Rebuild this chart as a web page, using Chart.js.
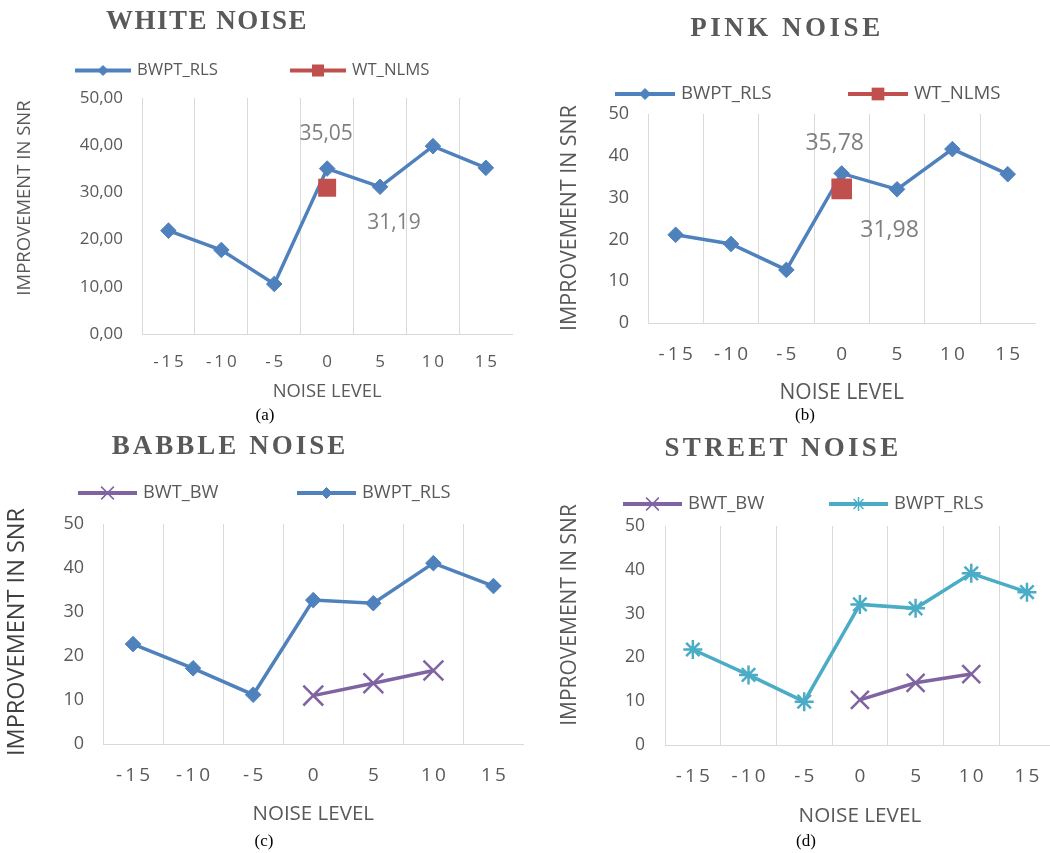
<!DOCTYPE html>
<html>
<head>
<meta charset="utf-8">
<title>Improvement in SNR by noise type</title>
<script src="https://cdn.jsdelivr.net/npm/chart.js@4/dist/chart.umd.min.js"></script>
<style>
  html, body { margin: 0; padding: 0; background: #ffffff; }
  body { width: 1050px; height: 853px; position: relative; overflow: hidden; }
  .panel { position: absolute; overflow: hidden; }
  .panel canvas { position: absolute; left: 0; top: 0; }
</style>
</head>
<body>
<div class="panel" style="left:0;top:0;width:525px;height:428px"><canvas id="chartWhite" width="525" height="428"></canvas></div>
<div class="panel" style="left:525px;top:0;width:525px;height:428px"><canvas id="chartPink" width="525" height="428"></canvas></div>
<div class="panel" style="left:0;top:428px;width:525px;height:425px"><canvas id="chartBabble" width="540" height="425"></canvas></div>
<div class="panel" style="left:525px;top:428px;width:525px;height:425px"><canvas id="chartStreet" width="545" height="425"></canvas></div>
<script>
// Noise levels (dB) on the x axis
const noiseLevels = ['-15', '-10', '-5', '0', '5', '10', '15'];

// White noise
const whiteBwptRls = [21.9, 17.8, 10.6, 35.05, 31.19, 39.8, 35.2];
const whiteWtNlms  = [null, null, null, 31.0, null, null, null];

// Pink noise
const pinkBwptRls = [21.1, 18.9, 12.7, 35.78, 31.98, 41.6, 35.6];
const pinkWtNlms  = [null, null, null, 32.1, null, null, null];

// Babble noise
const babbleBwtBw   = [null, null, null, 11.0, 13.8, 16.7, null];
const babbleBwptRls = [22.7, 17.2, 11.2, 32.7, 32.0, 41.1, 35.9];

// Street noise
const streetBwtBw   = [null, null, null, 10.3, 14.2, 16.2, null];
const streetBwptRls = [21.8, 16.0, 9.9, 32.1, 31.2, 39.2, 34.9];

// Y tick labels
const snrTicksDecimal = ['0,00', '10,00', '20,00', '30,00', '40,00', '50,00'];
const snrTicksInt     = ['0', '10', '20', '30', '40', '50'];

const BLUE = '#4F81BD', RED = '#C0504D', PURPLE = '#8064A2', TEAL = '#4BACC6';
const INK = '#595959', GRID = '#D9D9D9', LABEL_INK = '#7F7F7F';
const SANS = '"Open Sans", "DejaVu Sans", sans-serif';
const SERIF = '"Liberation Serif", "DejaVu Serif", serif';

const fmtComma = v => v.toFixed(2).replace('.', ',');

function diamondSeries(label, data) {
  return {
    label, data, borderColor: BLUE, backgroundColor: BLUE, borderWidth: 3.5,
    pointStyle: 'rectRot', pointRadius: 7.8, pointBorderWidth: 1,
    pointBackgroundColor: BLUE, pointBorderColor: BLUE, tension: 0, order: 1
  };
}
function squareSeries(label, data, radius) {
  return {
    label, data, borderColor: RED, backgroundColor: RED, showLine: false,
    pointStyle: 'rect', pointRadius: radius, pointBorderWidth: 0,
    pointBackgroundColor: RED, order: 0
  };
}
function crossSeries(label, data, radius) {
  return {
    label, data, borderColor: PURPLE, backgroundColor: PURPLE, borderWidth: 3.5,
    pointStyle: 'crossRot', pointRadius: radius, pointBorderWidth: 2.5,
    pointBorderColor: PURPLE, tension: 0, spanGaps: false, order: 1
  };
}
function starSeries(label, data) {
  return {
    label, data, borderColor: TEAL, backgroundColor: TEAL, borderWidth: 3.5,
    pointStyle: 'star', pointRadius: 9.5, pointBorderWidth: 2.5,
    pointBorderColor: TEAL, tension: 0, order: 1
  };
}

// Title, legend, y-axis caption, value labels and sub-figure caption
function makeDecor(p) {
  return {
    id: 'panelDecor',
    afterDraw(chart) {
      const ctx = chart.ctx;
      // panel title
      ctx.save();
      ctx.font = 'bold ' + p.title.size + 'px ' + SERIF;
      ctx.letterSpacing = p.title.spacing + 'px';
      ctx.fillStyle = INK;
      ctx.textAlign = 'center';
      ctx.textBaseline = 'middle';
      ctx.fillText(p.title.text, p.title.x, p.title.y);
      ctx.restore();

      // vertical axis caption
      ctx.save();
      ctx.translate(p.yTitle.x, p.yTitle.y);
      ctx.rotate(-Math.PI / 2);
      ctx.font = (p.yTitle.weight || 'normal') + ' ' + p.yTitle.size + 'px ' + SANS;
      ctx.fillStyle = p.yTitle.color || INK;
      ctx.textAlign = 'center';
      ctx.textBaseline = 'middle';
      ctx.fillText('IMPROVEMENT IN SNR', 0, 0);
      ctx.restore();

      // legend: line with marker, then label
      p.legend.items.forEach(it => {
        const ds = chart.data.datasets[it.ds];
        const y = p.legend.y;
        ctx.save();
        ctx.strokeStyle = ds.borderColor;
        ctx.lineWidth = 4;
        ctx.beginPath();
        ctx.moveTo(it.x, y);
        ctx.lineTo(it.x + it.w, y);
        ctx.stroke();
        ctx.fillStyle = ds.borderColor;
        ctx.strokeStyle = ds.borderColor;
        ctx.lineWidth = it.bw;
        Chart.helpers.drawPoint(ctx, { pointStyle: ds.pointStyle, radius: it.r, borderWidth: it.bw, rotation: 0 }, it.x + it.w / 2, y);
        ctx.fillStyle = INK;
        ctx.font = p.legend.size + 'px ' + SANS;
        ctx.textAlign = 'left';
        ctx.textBaseline = 'middle';
        ctx.fillText(ds.label, it.x + it.w + 6, y);
        ctx.restore();
      });

      // value labels next to points
      (p.valueLabels || []).forEach(l => {
        const el = chart.getDatasetMeta(l.ds).data[l.idx];
        const v = chart.data.datasets[l.ds].data[l.idx];
        ctx.save();
        ctx.font = p.valueLabelSize + 'px ' + SANS;
        ctx.fillStyle = LABEL_INK;
        ctx.textAlign = 'center';
        ctx.textBaseline = 'middle';
        ctx.fillText(fmtComma(v), el.x + l.dx, el.y + l.dy);
        ctx.restore();
      });

      // sub-figure caption
      ctx.save();
      ctx.font = '17px ' + SERIF;
      ctx.fillStyle = '#000000';
      ctx.textAlign = 'center';
      ctx.textBaseline = 'middle';
      ctx.fillText(p.caption.text, p.caption.x, p.caption.y);
      ctx.restore();
    }
  };
}

function makeChart(p) {
  return new Chart(document.getElementById(p.canvasId), {
    type: 'line',
    data: { labels: noiseLevels, datasets: p.datasets },
    options: {
      responsive: false,
      animation: false,
      devicePixelRatio: 1,
      events: [],
      layout: { padding: p.padding },
      plugins: { legend: { display: false }, tooltip: { enabled: false }, title: { display: false } },
      scales: {
        x: {
          type: 'category',
          offset: true,
          grid: {
            offset: true, drawTicks: false, lineWidth: 1,
            color: c => (c.type === 'tick' ? GRID : 'rgba(0,0,0,0)')
          },
          border: { display: true, color: GRID, width: 1 },
          ticks: {
            color: INK, font: { family: SANS, size: p.xTick.size }, padding: p.xTick.pad,
            maxRotation: 0, autoSkip: false,
            callback: (v, i) => noiseLevels[i].split('').join('\u2009')
          },
          title: {
            display: true, text: 'NOISE LEVEL', color: INK,
            font: { family: SANS, size: p.xTitle.size }, padding: { top: 0, bottom: p.xTitle.pad }
          },
          afterFit: s => { s.height = p.xHeight; }
        },
        y: {
          min: 0, max: 50,
          grid: { display: false, drawTicks: false },
          border: { display: false },
          ticks: {
            stepSize: 10, color: INK, font: { family: SANS, size: p.yTick.size }, padding: p.yTick.pad,
            callback: (v, i) => p.yTicks[i]
          },
          title: { display: false },
          afterFit: s => { s.width = p.yWidth; }
        }
      }
    },
    plugins: [makeDecor(p)]
  });
}

makeChart({
  canvasId: 'chartWhite',
  datasets: [diamondSeries('BWPT_RLS', whiteBwptRls), squareSeries('WT_NLMS', whiteWtNlms, 12.7)],
  padding: { left: 4, right: 10, top: 98, bottom: 19 },
  yWidth: 138, xHeight: 75,
  yTicks: snrTicksDecimal,
  yTick: { size: 17, pad: 19 }, yTitle: { size: 18.5, x: 25, y: 198 },
  xTick: { size: 17, pad: 18 }, xTitle: { size: 18.4, pad: 6 },
  title: { text: 'WHITE NOISE', x: 207, y: 22, size: 27, spacing: 1.5 },
  legend: { y: 70.5, size: 16.7, items: [{ ds: 0, x: 75, w: 56, r: 5, bw: 1 }, { ds: 1, x: 290, w: 56, r: 8.5, bw: 0 }] },
  valueLabelSize: 21,
  valueLabels: [{ ds: 0, idx: 3, dx: -1, dy: -35 }, { ds: 0, idx: 4, dx: 14, dy: 36 }],
  caption: { text: '(a)', x: 265, y: 416 }
});

makeChart({
  canvasId: 'chartPink',
  datasets: [diamondSeries('BWPT_RLS', pinkBwptRls), squareSeries('WT_NLMS', pinkWtNlms, 14.6)],
  padding: { left: 4, right: 5, top: 114, bottom: 19 },
  yWidth: 119, xHeight: 86,
  yTicks: snrTicksInt,
  yTick: { size: 18, pad: 19 }, yTitle: { size: 21.4, x: 44.5, y: 218 },
  xTick: { size: 19, pad: 20 }, xTitle: { size: 21, pad: 3 },
  title: { text: 'PINK NOISE', x: 262, y: 29, size: 27, spacing: 3.5 },
  legend: { y: 94, size: 18.7, items: [{ ds: 0, x: 90, w: 60, r: 5.5, bw: 1 }, { ds: 1, x: 323, w: 60, r: 9, bw: 0 }] },
  valueLabelSize: 23,
  valueLabels: [{ ds: 0, idx: 3, dx: -7, dy: -30 }, { ds: 0, idx: 4, dx: -7.5, dy: 41 }],
  caption: { text: '(b)', x: 280, y: 416 }
});

makeChart({
  canvasId: 'chartBabble',
  datasets: [crossSeries('BWT_BW', babbleBwtBw, 14), diamondSeries('BWPT_RLS', babbleBwptRls)],
  padding: { left: 2, right: 9, top: 96, bottom: 25 },
  yWidth: 101, xHeight: 84,
  yTicks: snrTicksInt,
  yTick: { size: 18, pad: 19 }, yTitle: { size: 23.5, x: 17, y: 204, color: '#404040', weight: '500' },
  xTick: { size: 19, pad: 20.6 }, xTitle: { size: 20.5, pad: 1.7 },
  title: { text: 'BABBLE NOISE', x: 230, y: 19, size: 27, spacing: 3 },
  legend: { y: 65, size: 18.3, items: [{ ds: 0, x: 78, w: 59, r: 9, bw: 1.5 }, { ds: 1, x: 297, w: 59, r: 5.5, bw: 1 }] },
  caption: { text: '(c)', x: 264, y: 414 }
});

makeChart({
  canvasId: 'chartStreet',
  datasets: [crossSeries('BWT_BW', streetBwtBw, 12.7), starSeries('BWPT_RLS', streetBwptRls)],
  padding: { left: 4, right: 9, top: 98, bottom: 23 },
  yWidth: 136, xHeight: 85,
  yTicks: snrTicksInt,
  yTick: { size: 17.5, pad: 20 }, yTitle: { size: 21, x: 45, y: 187 },
  xTick: { size: 19, pad: 20.6 }, xTitle: { size: 20.7, pad: 1.6 },
  title: { text: 'STREET NOISE', x: 258, y: 21, size: 27, spacing: 3.3 },
  legend: { y: 76, size: 18.5, items: [{ ds: 0, x: 98, w: 59, r: 9, bw: 1.5 }, { ds: 1, x: 304, w: 59, r: 7, bw: 1.5 }] },
  caption: { text: '(d)', x: 281, y: 414 }
});
</script>
</body>
</html>
